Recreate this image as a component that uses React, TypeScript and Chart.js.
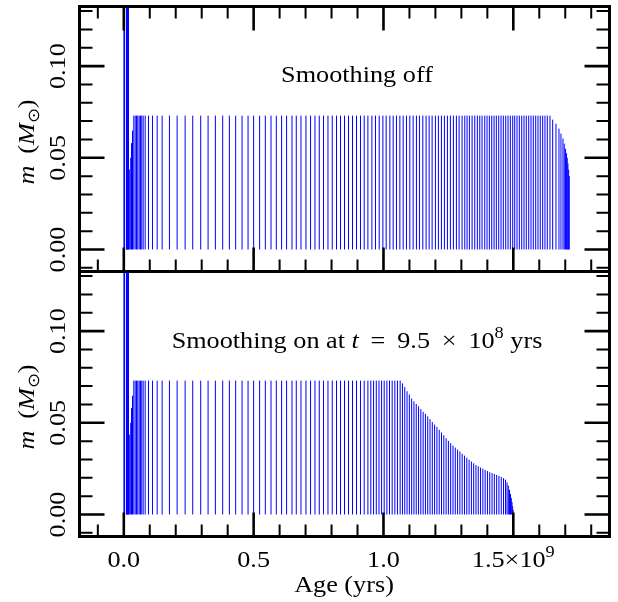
import React, { useEffect, useRef } from "react";
import { Chart, registerables } from "chart.js";

Chart.register(...registerables);

// ---------------- data (age in units of 1e9 yr, mass in M_sun) ----------------
const earlyAges = [0.0008, 0.002, 0.0032, 0.0106, 0.0121, 0.0136, 0.0151, 0.0166, 0.0181, 0.0212, 0.0266, 0.0297, 0.0335];
const earlyMasses = [0.2, 0.2, 0.2, 0.2, 0.2, 0.2, 0.2, 0.2, 0.2, 0.0436, 0.05, 0.058, 0.0648];

const plateauMass = 0.073;

const topPlateauAges = [
  0.0385, 0.0438, 0.0488, 0.0538, 0.0592, 0.0642, 0.0692, 0.0746, 0.0823, 0.095,
  0.1104, 0.1285, 0.1477, 0.1758, 0.2054, 0.2362, 0.2654, 0.2962, 0.3246, 0.3527,
  0.3808, 0.4065, 0.4308, 0.4554, 0.4785, 0.5, 0.5231, 0.545, 0.5669, 0.5873,
  0.6077, 0.6269, 0.6477, 0.6642, 0.6823, 0.7015, 0.7192, 0.7362, 0.7527, 0.7692,
  0.7862, 0.8027, 0.8192, 0.8346, 0.85, 0.8654, 0.8808, 0.8962, 0.9115, 0.9258,
  0.94, 0.9554, 0.9692, 0.9835, 0.9977, 1.0104, 1.0246, 1.0373, 1.05, 1.0631,
  1.0758, 1.0885, 1.1015, 1.1142, 1.1269, 1.1385, 1.1515, 1.1642, 1.1758, 1.1873,
  1.2, 1.2115, 1.2231, 1.2346, 1.2462, 1.2577, 1.2692, 1.2808, 1.2912, 1.3027,
  1.3131, 1.3219, 1.3308, 1.3412, 1.3515, 1.3615, 1.3708, 1.3796, 1.39, 1.3988,
  1.4077, 1.4169, 1.4258, 1.4346, 1.4438, 1.4527, 1.4615, 1.4708, 1.4796, 1.4885,
  1.4977, 1.5054, 1.5142, 1.5231, 1.5323, 1.5412, 1.55, 1.5592, 1.5681, 1.5769,
  1.5862, 1.595, 1.6038, 1.6131, 1.6219, 1.6308, 1.6412,
];
const topTailAges = [1.6515, 1.6642, 1.6758, 1.6835, 1.6912, 1.6962, 1.7008, 1.7046, 1.7077, 1.7104, 1.7131, 1.7154];
const topTailMasses = [0.0708, 0.0686, 0.0659, 0.0632, 0.0605, 0.0577, 0.055, 0.0525, 0.05, 0.047, 0.0435, 0.04];

const bottomPlateauAges = [
  0.0385, 0.0438, 0.0488, 0.0538, 0.0592, 0.0642, 0.0692, 0.0746, 0.0823, 0.095,
  0.1104, 0.1285, 0.1477, 0.1758, 0.2054, 0.2362, 0.2654, 0.2962, 0.3246, 0.3527,
  0.3808, 0.4065, 0.4308, 0.4554, 0.4785, 0.5, 0.5231, 0.545, 0.5669, 0.5873,
  0.6077, 0.6269, 0.6477, 0.6642, 0.6823, 0.7015, 0.7192, 0.7362, 0.7527, 0.7692,
  0.7862, 0.8027, 0.8192, 0.8346, 0.85, 0.8654, 0.8808, 0.8962, 0.9115, 0.9258,
  0.94, 0.9512, 0.9619, 0.9723, 0.9827, 0.9927, 1.0027, 1.0131, 1.0231, 1.0335,
  1.0438, 1.0538, 1.0642,
];
const bottomTailAges = [
  1.0731, 1.0819, 1.0908, 1.0996, 1.1085, 1.1173, 1.1262, 1.135, 1.1438, 1.1527,
  1.1615, 1.1704, 1.1792, 1.1881, 1.1969, 1.2058, 1.2146, 1.2235, 1.2323, 1.2412,
  1.25, 1.2588, 1.2677, 1.2765, 1.2854, 1.2942, 1.3031, 1.3119, 1.3208, 1.3296,
  1.3385, 1.3473, 1.3562, 1.365, 1.3738, 1.3827, 1.3915, 1.4004, 1.4092, 1.4181,
  1.4269, 1.4358, 1.4446, 1.4535, 1.4623, 1.47, 1.4758, 1.4808, 1.4854, 1.4892,
  1.4923, 1.495, 1.4973, 1.4992,
];
const bottomTailMasses = [
  0.0715, 0.0695, 0.0672, 0.0654, 0.0632, 0.0617, 0.0603, 0.059, 0.0575, 0.056,
  0.0548, 0.0535, 0.052, 0.0504, 0.049, 0.0478, 0.0462, 0.0447, 0.0432, 0.0416,
  0.0402, 0.0389, 0.0376, 0.0365, 0.0354, 0.0343, 0.0331, 0.0321, 0.031, 0.0299,
  0.0289, 0.0279, 0.027, 0.0263, 0.0256, 0.025, 0.0243, 0.0237, 0.0231, 0.0226,
  0.0221, 0.0216, 0.0211, 0.0205, 0.0198, 0.019, 0.0175, 0.0158, 0.0135, 0.0112,
  0.009, 0.0068, 0.0045, 0.0025,
];

const xMajorTicks = [0, 0.5, 1.0, 1.5];
const xTickLabels = ["0.0", "0.5", "1.0", "1.5×10^9"];
const yMajorTicks = [0, 0.05, 0.1];
const yTickLabels = ["0.00", "0.05", "0.10"];
const xTitle = "Age (yrs)";
const topNote = "Smoothing off";

// ---------------- layout / style ----------------
const X_MIN = -0.1706;
const X_MAX = 1.8704;
const Y_MIN = -0.012;
const Y_MAX = 0.1325;
const FONT = '"Liberation Serif", "Times New Roman", serif';
const FS = 23;
const SX = 1.14; // horizontal stretch to approximate the wider Computer Modern glyphs
const BLUE = "#0000ff";

type Part = { t: string; it?: boolean; sup?: boolean; sub?: boolean };

function partFont(p: Part, size: number) {
  const s = p.sup || p.sub ? size * 0.7 : size;
  return `${p.it ? "italic " : ""}${s}px ${FONT}`;
}
function partsWidth(ctx: CanvasRenderingContext2D, parts: Part[], size: number) {
  let w = 0;
  for (const p of parts) {
    ctx.font = partFont(p, size);
    w += ctx.measureText(p.t).width;
  }
  return w;
}
function drawParts(ctx: CanvasRenderingContext2D, parts: Part[], x: number, y: number, size: number) {
  ctx.save();
  ctx.textAlign = "left";
  ctx.textBaseline = "alphabetic";
  ctx.translate(x, y);
  ctx.scale(SX, 1);
  let cx = -partsWidth(ctx, parts, size) / 2;
  for (const p of parts) {
    ctx.font = partFont(p, size);
    const dy = p.sup ? -size * 0.42 : p.sub ? size * 0.2 : 0;
    ctx.fillText(p.t, cx, dy);
    cx += ctx.measureText(p.t).width;
  }
  ctx.restore();
}
function parseLabel(s: string): Part[] {
  const i = s.indexOf("^");
  if (i < 0) return [{ t: s }];
  return [{ t: s.slice(0, i) }, { t: s.slice(i + 1), sup: true }];
}

function spikePoints(ages: number[], masses: number[]) {
  const pts: { x: number; y: number | null }[] = [];
  ages.forEach((a, i) => {
    pts.push({ x: a, y: 0 }, { x: a, y: masses[i] }, { x: a, y: null });
  });
  return pts;
}

const yTitleParts: Part[] = [
  { t: "m", it: true },
  { t: "\u2009 (" },
  { t: "M", it: true },
  { t: "⊙", sub: true },
  { t: ")" },
];
const bottomNoteParts: Part[] = [
  { t: "Smoothing on at " },
  { t: "t", it: true },
  { t: "\u2009 = \u20099.5\u2009 × \u200910" },
  { t: "8", sup: true },
  { t: " yrs" },
];

type PanelOpts = { isTop: boolean; note: Part[] };

function makePlugin(o: PanelOpts) {
  return {
    id: "panelDecor",
    afterDatasetsDraw(chart: any) {
      const ctx: CanvasRenderingContext2D = chart.ctx;
      const { left, right, top, bottom } = chart.chartArea;
      const xs = chart.scales.x;
      const ys = chart.scales.y;
      ctx.save();
      ctx.strokeStyle = "#000";
      ctx.fillStyle = "#000";
      ctx.lineCap = "butt";
      // x ticks
      for (let k = -1; k <= 18; k++) {
        const v = k / 10;
        const major = xMajorTicks.some((m) => Math.abs(m - v) < 1e-9);
        const len = major ? 24 : 12;
        const px = xs.getPixelForValue(v);
        if (px < left || px > right) continue;
        ctx.lineWidth = major ? 2.6 : 2;
        ctx.beginPath();
        ctx.moveTo(px, bottom);
        ctx.lineTo(px, bottom - len);
        if (o.isTop) {
          ctx.moveTo(px, top);
          ctx.lineTo(px, top + len);
        }
        ctx.stroke();
      }
      // y ticks
      for (let k = -1; k <= 13; k++) {
        const v = k / 100;
        const major = yMajorTicks.some((m) => Math.abs(m - v) < 1e-9);
        const len = major ? 25 : 13;
        const py = ys.getPixelForValue(v);
        if (py < top || py > bottom) continue;
        ctx.lineWidth = major ? 2.6 : 2;
        ctx.beginPath();
        ctx.moveTo(left, py);
        ctx.lineTo(left + len, py);
        ctx.moveTo(right, py);
        ctx.lineTo(right - len, py);
        ctx.stroke();
      }
      // frame
      ctx.lineWidth = 3;
      ctx.strokeRect(left, top, right - left, bottom - top);

      // y tick labels (rotated)
      yMajorTicks.forEach((v, i) => {
        const py = ys.getPixelForValue(v);
        ctx.save();
        ctx.translate(65, py);
        ctx.rotate(-Math.PI / 2);
        drawParts(ctx, parseLabel(yTickLabels[i]), 0, 0, FS);
        ctx.restore();
      });
      // y title
      ctx.save();
      ctx.translate(34, (top + bottom) / 2 + 3);
      ctx.rotate(-Math.PI / 2);
      drawParts(ctx, yTitleParts, 0, 0, FS);
      ctx.restore();

      // note text
      const noteY = o.isTop ? 82 : 348;
      drawParts(ctx, o.note, 357, noteY, FS);

      if (!o.isTop) {
        xMajorTicks.forEach((v, i) => {
          const px = xs.getPixelForValue(v);
          drawParts(ctx, parseLabel(xTickLabels[i]), px, 567, FS);
        });
        drawParts(ctx, [{ t: xTitle }], 344, 592, FS);
      }
      ctx.restore();
    },
  };
}

function makeConfig(points: any[], o: PanelOpts, padding: any): any {
  return {
    type: "line",
    data: {
      datasets: [
        {
          data: points,
          borderColor: BLUE,
          borderWidth: 1,
          pointRadius: 0,
          spanGaps: false,
          tension: 0,
          fill: false,
        },
      ],
    },
    options: {
      animation: false,
      responsive: false,
      devicePixelRatio: 1,
      layout: { padding },
      events: [],
      scales: {
        x: { type: "linear", min: X_MIN, max: X_MAX, display: false },
        y: { type: "linear", min: Y_MIN, max: Y_MAX, display: false },
      },
      plugins: {
        legend: { display: false },
        tooltip: { enabled: false },
        title: { display: false },
      },
    },
    plugins: [makePlugin(o)],
  };
}

export default function App() {
  const topRef = useRef<HTMLCanvasElement>(null);
  const botRef = useRef<HTMLCanvasElement>(null);

  useEffect(() => {
    const topPts = [
      ...spikePoints(earlyAges, earlyMasses),
      ...spikePoints(topPlateauAges, topPlateauAges.map(() => plateauMass)),
      ...spikePoints(topTailAges, topTailMasses),
    ];
    const botPts = [
      ...spikePoints(earlyAges, earlyMasses),
      ...spikePoints(bottomPlateauAges, bottomPlateauAges.map(() => plateauMass)),
      ...spikePoints(bottomTailAges, bottomTailMasses),
    ];
    const c1 = new Chart(
      topRef.current!,
      makeConfig(topPts, { isTop: true, note: [{ t: topNote }] }, { left: 79.5, right: 8.5, top: 6.5, bottom: 330.5 })
    );
    const c2 = new Chart(
      botRef.current!,
      makeConfig(botPts, { isTop: false, note: bottomNoteParts }, { left: 79.5, right: 8.5, top: 271.5, bottom: 65.5 })
    );
    return () => {
      c1.destroy();
      c2.destroy();
    };
  }, []);

  return (
    <div style={{ position: "fixed", left: 0, top: 0, width: 618, height: 602, background: "#fff" }}>
      <canvas ref={topRef} width={618} height={602} style={{ position: "absolute", left: 0, top: 0 }} />
      <canvas ref={botRef} width={618} height={602} style={{ position: "absolute", left: 0, top: 0 }} />
    </div>
  );
}
